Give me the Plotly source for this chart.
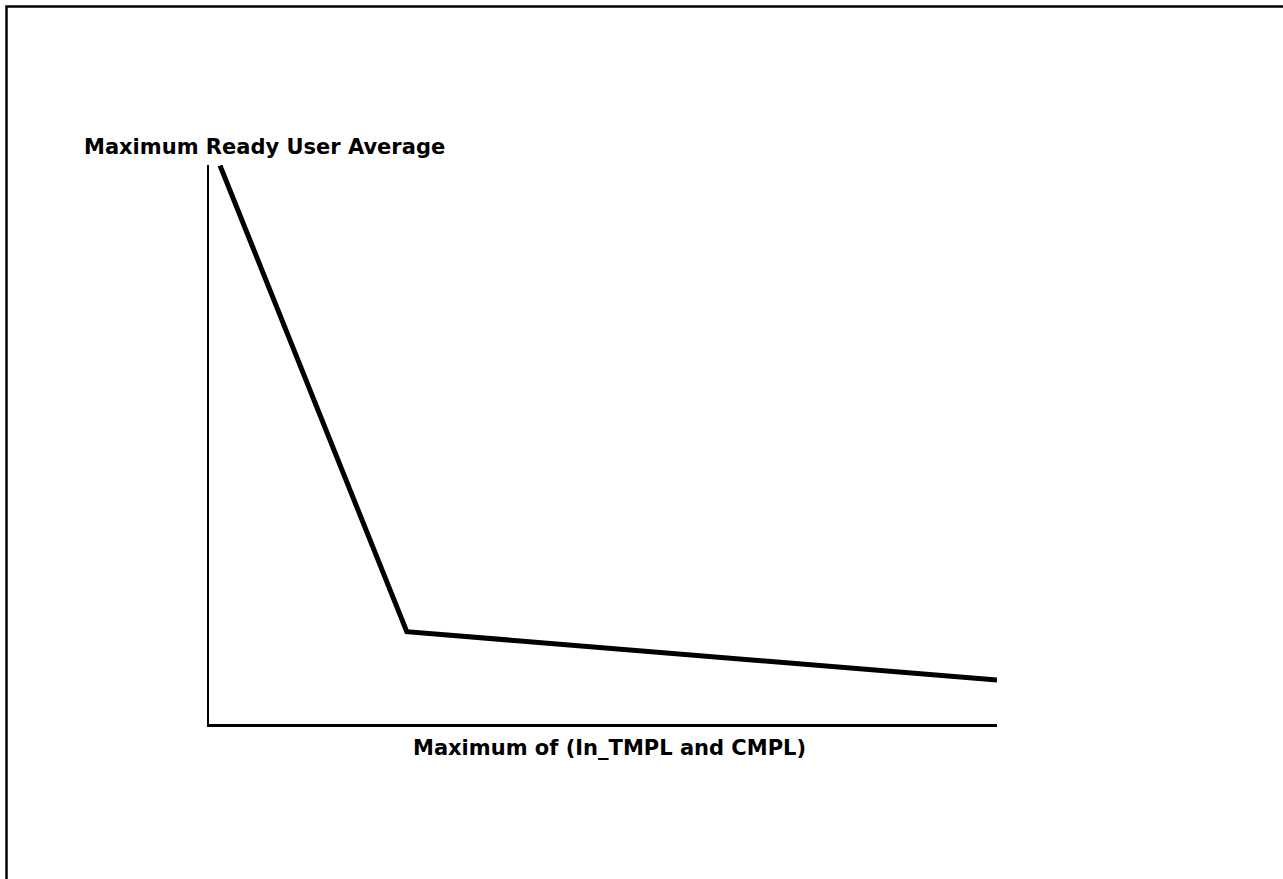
import plotly.graph_objects as go

# Values (no tick labels, so relative units 0-100)
tmpl_cmpl_max = [1.4, 25.1, 100.0]
ready_user_avg = [100.4, 16.6, 7.9]

x_title = "Maximum of (In_TMPL and CMPL)"
y_title = "Maximum Ready User Average"

W, H = 1283, 879
L, R, T, B = 209, 286, 165, 155
pw, ph = W - L - R, H - T - B


def px_to_paper(px, py):
    return (px - L) / pw, 1 - (py - T) / ph


font = dict(family="DejaVu Sans", size=21, color="black", weight="bold")

fig = go.Figure()
fig.add_trace(go.Scatter(
    x=tmpl_cmpl_max, y=ready_user_avg,
    mode="lines",
    line=dict(color="black", width=5),
    cliponaxis=False,
    hoverinfo="skip",
    showlegend=False))

bx0, by0 = px_to_paper(6.5, 6.5)
bx1, by1 = px_to_paper(W + 20, H + 20)

fig.update_layout(
    width=W, height=H,
    margin=dict(l=L, r=R, t=T, b=B),
    paper_bgcolor="white", plot_bgcolor="white",
    xaxis=dict(range=[0, 100], showgrid=False, zeroline=False, showticklabels=False,
               ticks="", showline=True, linecolor="black", linewidth=2.5),
    yaxis=dict(range=[0, 100.5], showgrid=False, zeroline=False, showticklabels=False,
               ticks="", showline=True, linecolor="black", linewidth=2),
    shapes=[dict(type="rect", xref="paper", yref="paper",
                 x0=bx0, y0=by1, x1=bx1, y1=by0,
                 line=dict(color="black", width=2.5))],
    annotations=[
        dict(text=y_title, xref="paper", yref="paper",
             x=px_to_paper(82, 0)[0], y=px_to_paper(0, 147)[1],
             xanchor="left", yanchor="middle", showarrow=False, font=font),
        dict(text=x_title, xref="paper", yref="paper",
             x=px_to_paper(609, 0)[0], y=px_to_paper(0, 748)[1],
             xanchor="center", yanchor="middle", showarrow=False, font=font),
    ],
)

# drop the default page margin so the figure sits at the window's top-left
fig.write_html("out.html", config={"displayModeBar": False},
               post_script="document.body.style.margin='0';document.body.style.overflow='hidden';")
